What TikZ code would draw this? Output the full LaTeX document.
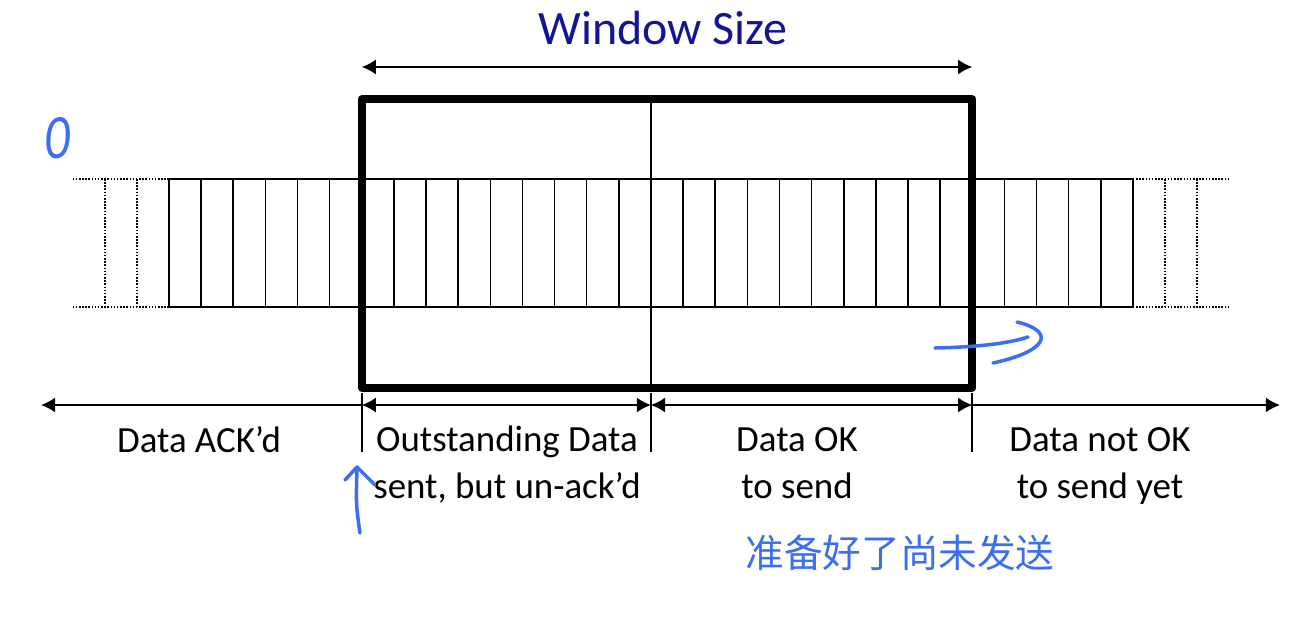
\documentclass[tikz,border=0pt]{standalone}
\usepackage{fontspec}
\setmainfont{Carlito}
\newfontfamily\cjk{Noto Sans CJK SC}
\usetikzlibrary{arrows.meta}
\definecolor{ink}{RGB}{59,110,240}
\definecolor{navy}{RGB}{20,20,150}
\tikzset{
  cell/.style={line width=0.9pt},
  ghost/.style={line width=1.1pt, dash pattern=on 0.9pt off 0.9pt},
  dim/.style={line width=1pt},
  lbl/.style={font=\fontsize{21}{26.6}\selectfont, align=center, anchor=base, inner sep=0pt},
  pen/.style={ink, line width=2pt, line cap=round, line join=round}
}
\begin{document}
\begin{tikzpicture}[x=0.02cm, y=-0.02cm, line join=round, >={Latex[length=8pt,width=8.5pt]}]
\useasboundingbox (0,0) rectangle (1313,620);
\def\cw{32.13}
\def\xs{169}
\def\yt{179}
\def\yb{307}
\def\ya{405}
\foreach \i in {0,...,30}
  \draw[cell] (\xs+\i*\cw,\yt)--(\xs+\i*\cw,\yb);
\draw[cell] (\xs,\yt)--(\xs+30*\cw,\yt) (\xs,\yb)--(\xs+30*\cw,\yb);
\foreach \i in {-2,-1,31,32}
  \draw[ghost] (\xs+\i*\cw,\yt)--(\xs+\i*\cw,\yb);
\draw[ghost] (\xs-3*\cw,\yt)--(\xs,\yt) (\xs-3*\cw,\yb)--(\xs,\yb)
  (\xs+30*\cw,\yt)--(\xs+33*\cw,\yt) (\xs+30*\cw,\yb)--(\xs+33*\cw,\yb);
\coordinate (wtl) at (\xs+6*\cw,99);
\coordinate (wbr) at (\xs+25*\cw,388);
\coordinate (wmt) at (\xs+15*\cw,99);
\coordinate (wmb) at (\xs+15*\cw,388);
\draw[cell] (wmt)--(wmb);
\draw[line width=4.5pt] (wtl) rectangle (wbr);
\coordinate (sl) at (\xs+6*\cw,67);
\coordinate (sr) at (\xs+25*\cw,67);
\draw[dim,<->] (sl)--(sr);
\node[navy, font=\fontsize{27.3}{30}\selectfont, anchor=base, inner sep=0pt] (wsize) at (663,44) {Window Size};
\coordinate (afl) at (41,\ya);
\coordinate (al) at (\xs+6*\cw,\ya);
\coordinate (am) at (\xs+15*\cw,\ya);
\coordinate (ar) at (\xs+25*\cw,\ya);
\coordinate (afr) at (1280,\ya);
\draw[dim,->] (al)--(afl);
\draw[dim,<->] (al)--(am);
\draw[dim,<->] (am)--(ar);
\draw[dim,->] (ar)--(afr);
\foreach \p in {al,am,ar}
  \draw[dim] (\p) ++(0,-12)--++(0,59);
\node[lbl] (acked) at (199,452) {Data ACK’d};
\node[lbl] (outst) at (507,498) {Outstanding Data\\sent, but un-ack’d};
\node[lbl] (okay) at (797,498) {Data OK\\to send};
\node[lbl] (notok) at (1100,498) {Data not OK\\to send yet};
\node[ink, font=\fontsize{36}{36}\selectfont\itshape, xscale=0.8] (zero) at (57,138) {0};
\draw[pen] (360,533) .. controls (356,505) .. (357,468);
\draw[pen] (345,480)--(357,467)--(375,485);
\draw[pen] (935,348) .. controls (980,347) and (1010,343) .. (1028,337);
\draw[pen] (1017,322) .. controls (1058,332) and (1045,352) .. (993,363);
\node[ink, font=\cjk\fontsize{22}{22}\selectfont] (todo) at (900,553) {准备好了尚未发送};
\end{tikzpicture}
\end{document}
